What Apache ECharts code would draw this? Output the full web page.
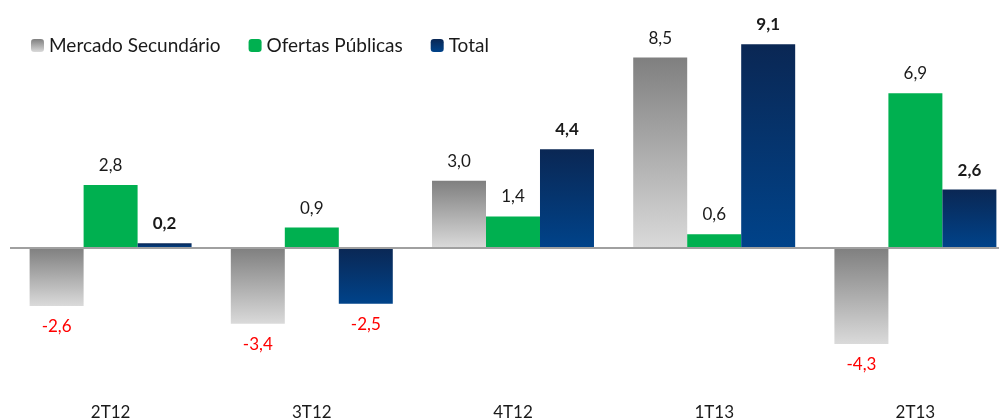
<!DOCTYPE html>
<html lang="pt">
<head>
    <meta charset="UTF-8">
    <title>Mercado Secundário x Ofertas Públicas</title>
    <script src="https://cdn.jsdelivr.net/npm/echarts@6/dist/echarts.min.js"></script>
</head>
<style>
    html,body{
        margin:0;
        padding:0;
        background:#fff;
    }
    #chart{
        width:999px;
        height:419px;
    }
</style>
<body>
<div id="chart"></div>
</body>
<script>
    var categorias = ['2T12', '3T12', '4T12', '1T13', '2T13'];
    var secundario = [-2.6, -3.4, 3.0, 8.5, -4.3];
    var ofertas = [2.8, 0.9, 1.4, 0.6, 6.9];
    var total = [0.2, -2.5, 4.4, 9.1, 2.6];

    function fmt(v){
        return v.toFixed(1).replace('.', ',');
    }

    // rótulo acima para positivo (negrito no total), abaixo para negativo (vermelho)
    function montaDados(arr, bold){
        return arr.map(function (v) {
            return {
                value: v,
                label: {
                    position: v < 0 ? 'bottom' : 'top',
                    distance: v < 0 ? 12 : 11,
                    color: v < 0 ? '#ff0000' : '#1a1a1a',
                    fontWeight: (bold && v >= 0) ? 'bold' : 'normal'
                }
            };
        });
    }

    var cinza = new echarts.graphic.LinearGradient(0, 0, 0, 1, [
        {offset: 0, color: '#7f7f7f'},
        {offset: 1, color: '#dadada'}
    ]);
    var azul = new echarts.graphic.LinearGradient(0, 0, 0, 1, [
        {offset: 0, color: '#0a2754'},
        {offset: 1, color: '#00438a'}
    ]);

    var rotulo = {
        show: true,
        fontSize: 17,
        fontFamily: 'Lato',
        formatter: function (p) { return fmt(p.value); }
    };

    var myChart = echarts.init(document.getElementById('chart'));
    myChart.setOption({
        animation: false,
        textStyle: {fontFamily: 'Lato'},
        legend: {
            left: 26,
            top: 31,
            itemWidth: 13,
            itemHeight: 13,
            itemGap: 28,
            textStyle: {fontSize: 19, color: '#1a1a1a', fontFamily: 'Lato'},
            data: ['Mercado Secundário', 'Ofertas Públicas', 'Total']
        },
        grid: {
            left: 10,
            width: 1006,
            top: 24,
            height: 358,
            outerBoundsMode: 'none',
            containLabel: false
        },
        xAxis: {
            type: 'category',
            data: categorias,
            axisLine: {show: false, onZero: false},
            axisTick: {show: false},
            axisLabel: {fontSize: 17, color: '#1a1a1a', margin: 22, fontFamily: 'Lato'}
        },
        yAxis: {
            type: 'value',
            min: -6,
            max: 10,
            show: false,
            splitLine: {show: false}
        },
        series: [{
            name: 'Mercado Secundário',
            type: 'bar',
            barGap: '0%',
            barCategoryGap: '19.5%',
            itemStyle: {color: cinza},
            label: rotulo,
            data: montaDados(secundario, false),
            markLine: {
                silent: true,
                symbol: 'none',
                label: {show: false},
                lineStyle: {color: '#a0a0a0', width: 2, type: 'solid'},
                data: [{yAxis: 0}]
            }
        }, {
            name: 'Ofertas Públicas',
            type: 'bar',
            itemStyle: {color: '#00b050'},
            label: rotulo,
            data: montaDados(ofertas, false)
        }, {
            name: 'Total',
            type: 'bar',
            itemStyle: {color: azul},
            label: rotulo,
            data: montaDados(total, true)
        }]
    });
</script>
</html>
